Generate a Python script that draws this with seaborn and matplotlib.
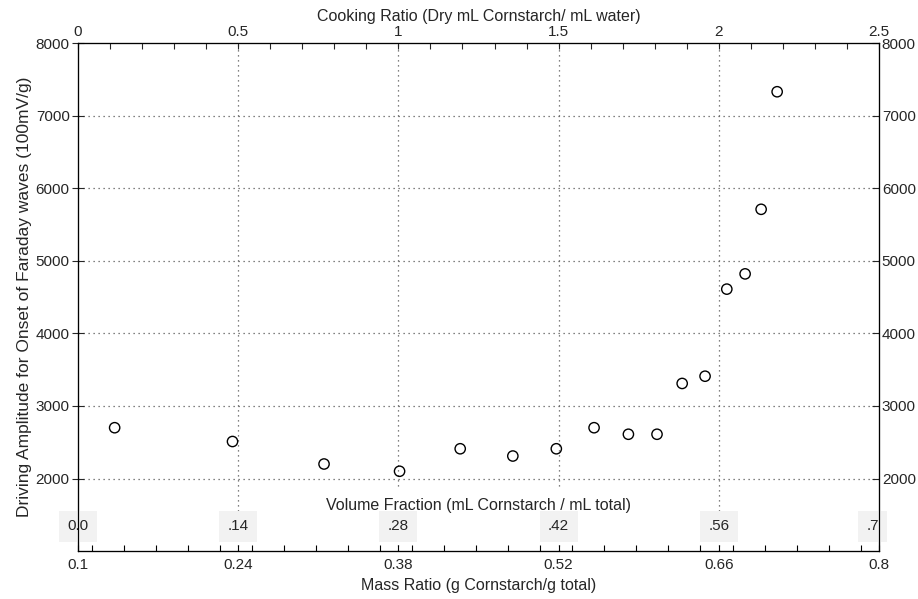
import numpy as np
import pandas as pd
import matplotlib
matplotlib.use('Agg')
import matplotlib.pyplot as plt
from matplotlib.ticker import MultipleLocator
import seaborn as sns

# data (mass ratio vs driving amplitude)
mass_ratio = [0.132, 0.235, 0.315, 0.381, 0.434, 0.480, 0.518, 0.551,
              0.581, 0.606, 0.628, 0.648, 0.667, 0.683, 0.697, 0.711]
amplitude = [2700, 2510, 2200, 2100, 2410, 2310, 2410, 2700,
             2610, 2610, 3310, 3410, 4610, 4820, 5710, 7330]

mass_ticks = [0.1, 0.24, 0.38, 0.52, 0.66, 0.8]
cook_ticks = [0, 0.5, 1, 1.5, 2, 2.5]
cook_labels = ['0', '0.5', '1', '1.5', '2', '2.5']
vol_labels = ['0.0', '.14', '.28', '.42', '.56', '.7']
y_ticks = [2000, 3000, 4000, 5000, 6000, 7000, 8000]

df = pd.DataFrame({'mass': mass_ratio, 'amp': amplitude})

sns.set_theme(style='ticks')
plt.rcParams['font.family'] = ['Liberation Sans', 'DejaVu Sans']
plt.rcParams['font.size'] = 11

fig = plt.figure(figsize=(9.18, 5.99), dpi=100)
ax = fig.add_axes([0.085, 0.080, 0.8725, 0.848])

grid_kw = dict(color='0.35', linestyle=(0, (1, 3)), linewidth=0.9)
for v in mass_ticks[1:-1]:
    ax.axvline(v, zorder=0, **grid_kw)
for v in y_ticks[:-1]:
    ax.axhline(v, zorder=0, **grid_kw)

sns.scatterplot(data=df, x='mass', y='amp', ax=ax, marker='o', s=55,
                facecolor='none', edgecolor='black', linewidth=1, zorder=3)

ax.set_xlim(0.1, 0.8)
ax.set_ylim(1000, 8000)
ax.set_xticks(mass_ticks)
ax.set_xticklabels([f'{t:g}' for t in mass_ticks])
ax.xaxis.set_minor_locator(MultipleLocator(0.028))
ax.set_yticks(y_ticks)
ax.set_xlabel('Mass Ratio (g Cornstarch/g total)', fontsize=11.5, labelpad=4)
ax.set_ylabel('Driving Amplitude for Onset of Faraday waves (100mV/g)', fontsize=12.5, labelpad=3)
ax.tick_params(axis='x', which='both', direction='in', length=4, width=0.8,
               labelsize=11, pad=5, color='black')
ax.tick_params(axis='y', direction='inout', length=8, width=0.8, labelsize=11, pad=2)

# right axis
ax_r = ax.twinx()
ax_r.set_ylim(ax.get_ylim())
ax_r.set_yticks(y_ticks)
ax_r.tick_params(axis='y', direction='in', length=5, width=0.8, labelsize=11, pad=2)

# top axis: cooking ratio
ax_t = ax.twiny()
ax_t.set_xlim(0, 2.5)
ax_t.set_xticks(cook_ticks)
ax_t.set_xticklabels(cook_labels)
ax_t.xaxis.set_minor_locator(MultipleLocator(0.1))
ax_t.tick_params(axis='x', which='both', direction='in', length=4, width=0.8,
                 labelsize=11, pad=3)
ax_t.set_xlabel('Cooking Ratio (Dry mL Cornstarch/ mL water)', fontsize=11.5, labelpad=3)

for a in (ax, ax_r, ax_t):
    for s in a.spines.values():
        s.set_linewidth(0.8)
        s.set_color('black')

# volume fraction scale written inside the plot
ax.text(0.5, 0.09, 'Volume Fraction (mL Cornstarch / mL total)', transform=ax.transAxes,
        ha='center', va='center', fontsize=11.5, zorder=4,
        bbox=dict(boxstyle='square,pad=0.6', fc='white', ec='none'))
for i, (m, lab) in enumerate(zip(mass_ticks, vol_labels)):
    ha = 'right' if i == len(vol_labels) - 1 else 'center'
    ax.text(m, 0.049, lab, transform=ax.get_xaxis_transform(), ha=ha, va='center',
            fontsize=11, zorder=4, clip_on=False,
            bbox=dict(boxstyle='square,pad=0.55', fc='#f2f2f2', ec='none'))

fig.savefig('out.png', dpi=100)
